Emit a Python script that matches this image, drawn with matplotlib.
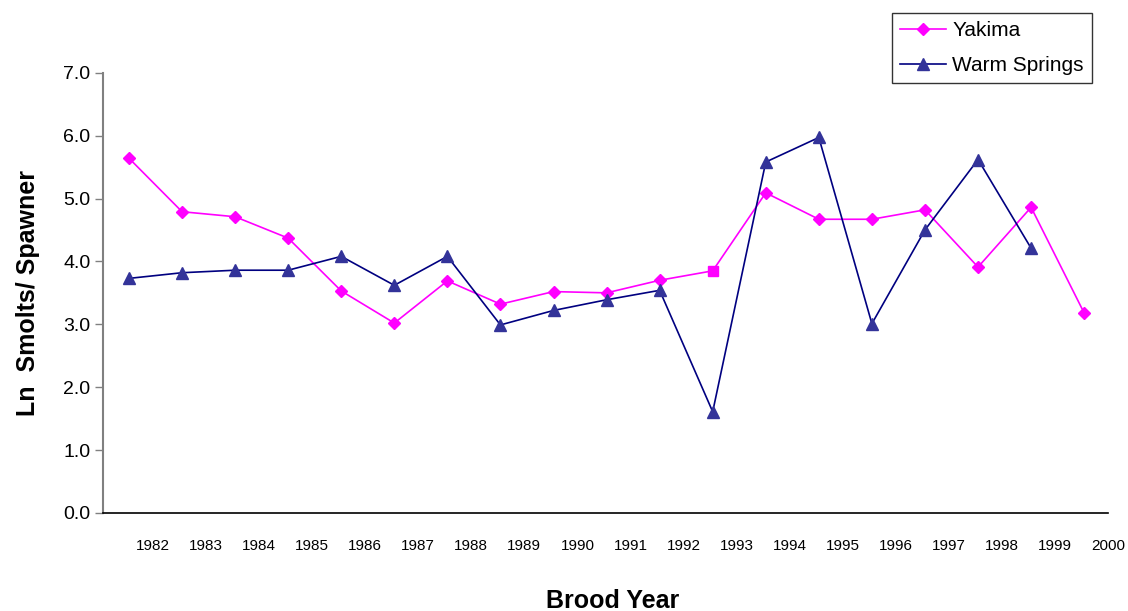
import numpy as np
import matplotlib
matplotlib.use("Agg")
import matplotlib.pyplot as plt

plt.rcParams['font.family'] = ['Liberation Sans', 'DejaVu Sans']

# brood years and ln smolts/spawner
years = [str(y) for y in range(1982, 2001)]
yakima = [5.64, 4.79, 4.71, 4.37, 3.53, 3.02, 3.69, 3.32, 3.52, 3.50,
          3.70, 3.85, 5.09, 4.67, 4.67, 4.82, 3.91, 4.86, 3.18]
warm_springs = [3.73, 3.82, 3.86, 3.86, 4.08, 3.62, 4.08, 2.99, 3.22, 3.39,
                3.54, 1.61, 5.58, 5.97, 3.01, 4.50, 5.62, 4.21, np.nan]
square_year = 11  # 1993 Yakima point is drawn as a square

x = np.arange(len(years))

fig = plt.figure(figsize=(11.28, 6.11), dpi=100)
ax = fig.add_axes([0.0913, 0.1604, 0.891, 0.7206])

pink = "#FF00FF"
navy = "#000080"
mk_blue = "#333399"

keep = [i for i in range(len(x)) if i != square_year]
ax.plot(x, yakima, color=pink, lw=1.2, marker="D", ms=6.5,
        markevery=keep, mfc=pink, mec=pink, label="Yakima")
ax.plot(x[square_year], yakima[square_year], ls="none", marker="s", ms=7,
        mfc=pink, mec=pink)
ax.plot(x, warm_springs, color=navy, lw=1.2, marker="^", ms=9,
        mfc=mk_blue, mec=mk_blue, label="Warm Springs")

ax.set_ylim(0, 7)
ax.set_xlim(-0.49, 18.36)
ax.set_yticks(np.arange(0, 8, 1))
ax.set_yticklabels([f"{v:.1f}" for v in range(8)], fontsize=14)
ax.set_xticks(x + 0.45)
ax.set_xticklabels(years, fontsize=11)
ax.tick_params(axis="x", length=0, pad=19)
ax.tick_params(axis="y", length=6, width=1, color="#808080", pad=3)

ax.spines["top"].set_visible(False)
ax.spines["right"].set_visible(False)
ax.spines["left"].set_color("#808080")
ax.spines["left"].set_linewidth(1.5)
ax.spines["bottom"].set_color("black")
ax.spines["bottom"].set_linewidth(1.2)

ax.set_ylabel("Ln  Smolts/ Spawner", fontsize=18, fontweight="bold")
ax.yaxis.set_label_coords(-0.063, 0.5)
fig.text(0.543, 1 - 601 / 611, "Brood Year", fontsize=18, fontweight="bold",
         ha="center", va="center")

leg = fig.legend(loc="upper left", bbox_to_anchor=(892 / 1128, 1 - 13 / 611),
                 borderaxespad=0, fontsize=15, frameon=True, fancybox=False,
                 borderpad=0.4, handlelength=2.2, handletextpad=0.3,
                 labelspacing=0.75)
leg.get_frame().set_edgecolor("black")
leg.get_frame().set_linewidth(1.0)

fig.savefig("out.png", dpi=100)
